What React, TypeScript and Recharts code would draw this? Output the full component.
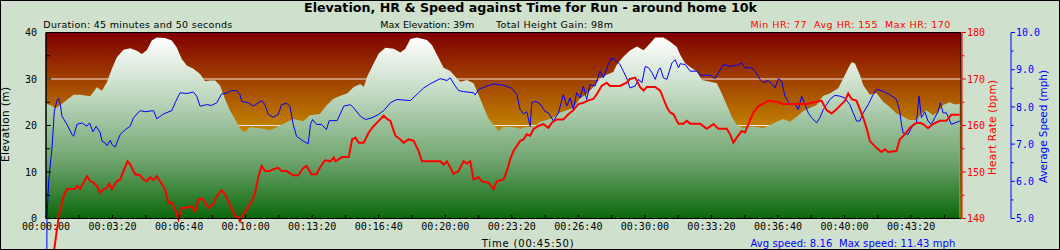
import React from 'react';
import { ComposedChart, Area, Line, XAxis, YAxis, CartesianGrid, ReferenceArea } from 'recharts';

const MONO = '"DejaVu Sans Mono", monospace';
const SANS = '"DejaVu Sans", Verdana, sans-serif';

// time (s) vs elevation (m)
const elevation: [number, number][] = [
  [0,24.6],[13,24.4],[28,23.7],[43,24.4],[83,26.6],[103,26.6],[133,26.3],[153,28.2],[168,27.5],[183,29.3],
  [198,32.2],[213,34.7],[233,36.3],[253,36.6],[273,36.1],[288,35.4],[303,36.2],[318,38.3],[333,38.9],[358,38.8],
  [378,38.3],[393,36.8],[408,34.3],[423,32.9],[443,32.2],[463,31.1],[478,29.5],[493,29.7],[508,29.7],[523,28.6],
  [538,25.7],[553,23.2],[573,20.7],[588,18.9],[598,18.6],[613,19.6],[643,19.4],[673,19.0],[693,19.6],[723,20.7],
  [743,21.4],[773,20.9],[793,22.2],[823,22.5],[843,24.3],[863,25.7],[885,26.4],[905,26.9],[925,28.3],[945,28.9],
  [955,28.3],[965,30.5],[985,33.4],[1000,35.5],[1020,36.7],[1045,36.5],[1065,35.7],[1080,36.5],[1095,38.6],[1115,38.9],
  [1145,38.4],[1160,37.3],[1175,35.2],[1195,32.4],[1215,31.7],[1235,30.1],[1245,29.4],[1265,29.8],[1285,29.1],[1300,26.6],
  [1315,24.0],[1330,21.5],[1345,20.1],[1360,18.8],[1375,19.7],[1400,19.7],[1425,19.3],[1445,19.7],[1465,19.7],[1485,20.8],
  [1505,21.2],[1525,21.7],[1545,22.8],[1565,23.3],[1585,23.8],[1605,25.8],[1625,26.8],[1645,28.3],[1665,30.1],[1685,30.9],
  [1705,31.5],[1715,33.0],[1735,34.8],[1756,36.2],[1776,37.0],[1796,36.2],[1816,37.7],[1831,38.9],[1856,38.9],[1876,38.0],
  [1896,36.9],[1906,35.2],[1921,33.4],[1936,32.6],[1956,31.6],[1971,29.8],[1996,29.4],[2016,29.1],[2031,26.9],[2046,24.4],
  [2061,21.9],[2076,20.1],[2096,19.4],[2126,19.8],[2156,19.4],[2176,20.1],[2196,20.8],[2216,21.4],[2236,20.8],[2256,21.9],
  [2276,23.1],[2316,24.4],[2336,26.4],[2356,26.9],[2381,28.0],[2396,30.1],[2411,32.3],[2421,33.6],[2431,33.4],[2446,30.9],
  [2456,28.7],[2476,26.6],[2496,27.0],[2516,25.1],[2536,24.0],[2556,22.6],[2576,21.9],[2596,21.2],[2616,21.2],[2631,22.6],
  [2646,23.3],[2666,22.2],[2681,22.9],[2696,24.4],[2716,25.0],[2731,24.5],[2746,24.7],
];

// time (s) vs heart rate (bpm)
const heartRate: [number, number][] = [
  [0,77],[24,133],[38,140.2],[51,144.5],[63,146.3],[88,146.4],[93,147.0],[103,146.4],[123,149.1],[133,148.0],
  [143,147.7],[153,147.0],[163,145.5],[173,146.3],[183,146.6],[190,147.5],[198,146.3],[213,148.0],[223,148.4],[233,150.2],
  [245,152.3],[253,151.6],[268,149.5],[283,149.3],[293,148.4],[303,148.0],[313,148.9],[323,148.2],[333,149.1],[343,148.0],
  [358,146.3],[368,143.4],[378,143.4],[388,141.9],[398,139.8],[408,142.3],[423,142.3],[438,142.6],[448,141.5],[458,144.0],
  [468,144.4],[478,143.4],[488,142.3],[503,143.1],[513,144.8],[528,146.1],[538,145.2],[553,143.0],[568,140.5],[578,140.3],
  [583,139.4],[593,140.9],[603,141.9],[618,143.7],[628,145.5],[638,148.8],[648,151.3],[658,150.2],[673,150.2],[683,150.6],
  [698,150.9],[708,150.2],[723,150.2],[743,149.3],[758,149.3],[773,150.8],[783,151.3],[798,149.5],[813,149.5],[823,150.9],
  [838,152.5],[855,152.3],[865,153.1],[870,152.3],[890,153.2],[910,153.2],[920,157.0],[930,157.4],[940,156.3],[955,156.3],
  [970,158.5],[985,159.9],[1000,161.0],[1015,162.1],[1025,161.4],[1035,161.0],[1050,157.8],[1065,157.0],[1075,156.3],[1090,157.0],
  [1105,156.7],[1120,154.5],[1130,152.3],[1185,152.3],[1195,151.6],[1205,152.3],[1225,149.6],[1240,150.2],[1255,152.3],[1265,151.8],
  [1275,152.3],[1285,148.4],[1300,148.9],[1310,148.0],[1330,147.7],[1345,146.3],[1355,148.0],[1375,148.4],[1385,150.2],[1395,152.7],
  [1405,154.5],[1415,155.6],[1425,156.7],[1435,157.0],[1445,158.1],[1455,157.8],[1465,159.2],[1480,159.9],[1495,160.3],[1510,159.5],
  [1520,160.6],[1535,161.3],[1555,161.3],[1570,162.4],[1585,163.3],[1600,164.6],[1615,164.9],[1630,165.4],[1645,165.7],[1655,166.7],
  [1670,168.5],[1685,169.2],[1695,168.5],[1725,168.5],[1745,169.2],[1755,170.0],[1771,170.3],[1786,168.2],[1796,167.5],[1806,168.3],
  [1831,168.3],[1846,167.5],[1856,165.7],[1866,163.9],[1876,162.8],[1886,162.4],[1896,161.0],[1901,160.4],[1916,160.4],[1926,161.0],
  [1936,160.4],[1966,160.4],[1986,159.3],[2006,160.3],[2021,159.3],[2046,159.3],[2056,158.1],[2066,156.3],[2076,157.4],[2091,158.8],
  [2101,158.5],[2111,160.3],[2126,162.8],[2141,164.2],[2156,164.7],[2171,165.3],[2196,165.1],[2216,164.6],[2246,164.6],[2266,164.7],
  [2286,164.6],[2301,164.9],[2331,165.3],[2346,163.3],[2361,162.6],[2376,163.5],[2391,164.6],[2401,165.3],[2411,166.9],[2421,165.7],
  [2436,165.3],[2446,163.5],[2456,161.7],[2466,159.5],[2476,156.7],[2496,155.2],[2511,154.3],[2521,154.9],[2531,154.3],[2556,154.5],
  [2566,157.0],[2581,158.1],[2596,159.5],[2611,160.4],[2626,160.6],[2636,160.3],[2651,159.4],[2666,160.3],[2686,161.0],[2706,161.0],
  [2721,162.3],[2746,162.3],
];

// time (s) vs average speed (mph)
const speed: [number, number][] = [
  [0,0],[3,5.0],[8,6.0],[18,6.9],[25,7.88],[33,8.17],[38,8.23],[43,8.06],[48,7.75],[63,7.53],
  [78,7.26],[83,7.21],[93,7.53],[108,7.57],[123,7.48],[131,7.57],[141,7.33],[151,7.48],[163,7.30],[168,7.08],
  [178,7.03],[183,6.96],[193,7.10],[198,6.99],[208,6.92],[223,7.26],[238,7.39],[253,7.48],[263,7.71],[283,7.90],
  [298,7.87],[323,7.90],[333,7.68],[353,7.81],[378,7.90],[388,8.11],[403,8.38],[423,8.36],[443,8.40],[453,8.29],
  [463,8.02],[483,8.06],[498,8.04],[513,8.11],[528,8.35],[543,8.37],[558,8.44],[573,8.44],[583,8.33],[588,8.15],
  [608,8.11],[623,8.02],[648,8.17],[658,8.06],[668,7.80],[683,7.72],[698,7.80],[708,8.06],[723,8.10],[733,8.02],
  [743,7.53],[753,7.21],[773,7.08],[788,7.01],[795,7.53],[801,7.66],[813,7.53],[828,7.53],[843,7.39],[851,7.63],
  [875,7.63],[895,8.02],[915,8.06],[925,7.97],[945,7.75],[960,7.66],[980,7.71],[1000,7.80],[1015,7.90],[1035,8.11],
  [1055,8.20],[1095,8.17],[1120,8.38],[1135,8.51],[1155,8.62],[1185,8.76],[1205,8.71],[1215,8.78],[1230,8.56],[1240,8.44],
  [1255,8.41],[1285,8.38],[1290,8.32],[1300,8.47],[1325,8.56],[1345,8.62],[1375,8.58],[1400,8.50],[1415,8.33],[1425,7.93],
  [1435,7.81],[1445,7.87],[1455,7.48],[1460,8.11],[1470,8.15],[1485,8.08],[1500,7.88],[1510,7.84],[1525,7.62],[1540,7.84],
  [1555,8.33],[1565,8.02],[1575,8.24],[1585,7.93],[1595,8.38],[1605,8.24],[1615,8.56],[1625,8.20],[1635,8.60],[1650,8.56],
  [1665,8.96],[1675,8.78],[1690,9.14],[1700,9.32],[1715,9.23],[1725,9.14],[1735,8.96],[1745,8.78],[1755,8.51],[1771,8.56],
  [1781,8.74],[1791,8.65],[1801,9.09],[1811,9.05],[1821,8.92],[1831,8.74],[1841,9.00],[1846,9.05],[1856,8.78],[1866,8.74],
  [1881,9.18],[1891,9.27],[1901,9.05],[1906,9.16],[1921,9.14],[1936,8.96],[1956,8.96],[1966,8.85],[1996,8.85],[2011,8.76],
  [2021,8.92],[2036,9.14],[2056,9.09],[2076,9.12],[2091,9.18],[2101,9.05],[2121,9.05],[2131,8.96],[2146,8.74],[2156,8.65],
  [2171,8.71],[2181,8.62],[2191,8.51],[2201,8.76],[2211,8.69],[2221,8.29],[2236,8.06],[2251,8.08],[2261,7.93],[2271,8.29],
  [2281,8.06],[2291,7.84],[2301,7.71],[2316,7.57],[2326,7.71],[2336,7.93],[2346,8.06],[2356,8.20],[2371,8.31],[2386,8.29],
  [2401,8.24],[2416,8.06],[2426,7.84],[2436,7.62],[2446,7.62],[2456,7.84],[2471,8.06],[2486,8.33],[2496,8.47],[2516,8.42],
  [2536,8.33],[2556,8.20],[2566,7.88],[2571,7.53],[2576,7.30],[2591,7.26],[2601,7.44],[2616,7.57],[2624,8.29],[2631,7.71],
  [2641,7.87],[2651,7.62],[2661,7.53],[2671,7.71],[2681,7.87],[2688,8.11],[2696,7.84],[2706,7.84],[2721,7.53],[2746,7.62],
];

const xTicks = [0,100,200,300,400,500,600,700,800,900,1000,1100,1200,1300,1400,1500,1600,1700,1800,1900,2000,2100,2200,2300,2400,2500,2600,2700];
const xLabels: Record<number, string> = {
  0: '00:00:00', 200: '00:03:20', 400: '00:06:40', 600: '00:10:00', 800: '00:13:20', 1000: '00:16:40', 1200: '00:20:00',
  1400: '00:23:20', 1600: '00:26:40', 1800: '00:30:00', 2000: '00:33:20', 2200: '00:36:40', 2400: '00:40:00', 2600: '00:43:20',
};
const elevTicks = [0,5,10,15,20,25,30,35,40];
const elevLabels: Record<number, string> = { 0: '0', 10: '10', 20: '20', 30: '30', 40: '40' };
const hrTicks = [140,145,150,155,160,165,170,175,180];
const hrLabels: Record<number, string> = { 140: '140', 150: '150', 160: '160', 170: '170', 180: '180' };
const speedTicks = [5,5.5,6,6.5,7,7.5,8,8.5,9,9.5,10];
const speedLabels: Record<number, string> = { 5: '5.0', 6: '6.0', 7: '7.0', 8: '8.0', 9: '9.0', 10: '10.0' };
const gridValues = [10, 20, 30];

const elevData = elevation.map(([t, v]) => ({ t, elev: v }));
const hrData = heartRate.map(([t, v]) => ({ t, hr: v }));
const speedData = speed.map(([t, v]) => ({ t, spd: v }));

const XTick = (p: any) => {
  const { x, y, payload } = p;
  const lab = xLabels[payload.value];
  return (
    <g>
      <line x1={x} x2={x} y1={y} y2={y - 3.5} stroke="#000" strokeWidth={1} />
      {lab && (
        <text x={x} y={y + 11.2} textAnchor="middle" fontFamily={MONO} fontSize={10} fill="#000">{lab}</text>
      )}
    </g>
  );
};

const ElevTick = (p: any) => {
  const { x, y, payload } = p;
  const lab = elevLabels[payload.value];
  return (
    <g>
      <line x1={x} x2={x + (lab ? 5 : 4)} y1={y} y2={y} stroke="#000" strokeWidth={1} />
      {lab && (
        <text x={x - 9} y={y + 3.6} textAnchor="end" fontFamily={MONO} fontSize={10} fill="#000">{lab}</text>
      )}
    </g>
  );
};

const makeRightTick = (labels: Record<number, string>, color: string, shift: number) => (p: any) => {
  const { x, y, payload } = p;
  const lab = labels[payload.value];
  return (
    <g>
      <line x1={x + shift} x2={x + shift + (lab ? 4 : 2.5)} y1={y} y2={y} stroke={color} strokeWidth={1} />
      {lab && (
        <text x={x + shift + 5} y={y + 3.6} textAnchor="start" fontFamily={MONO} fontSize={10} fill={color}>{lab}</text>
      )}
    </g>
  );
};

const HrTick = makeRightTick(hrLabels, '#ff0000', 1);
const SpeedTick = makeRightTick(speedLabels, '#0000ff', 0);

export default function App() {
  return (
    <div style={{ position: 'absolute', left: 0, top: 0, width: 1060, height: 250, background: '#cfe1cd', overflow: 'hidden' }}>
      <style>{`.recharts-line, .recharts-line * { clip-path: none !important; }`}</style>
      <div style={{ position: 'absolute', left: 0, top: 0 }}>
        <ComposedChart width={1060} height={250} margin={{ top: 32.5, right: 0, bottom: 0, left: 0 }}>
          <defs>
            <linearGradient id="bgGrad" x1="0" y1="0" x2="0" y2="1">
              <stop offset="0" stopColor="#800000" />
              <stop offset="1" stopColor="#ffff00" />
            </linearGradient>
            <linearGradient id="elevGrad" x1="0" y1="0" x2="0" y2="1">
              <stop offset="0" stopColor="#ffffff" />
              <stop offset="0.32" stopColor="#c0d8c0" />
              <stop offset="0.68" stopColor="#6fa46f" />
              <stop offset="0.96" stopColor="#177017" />
              <stop offset="1" stopColor="#0a640a" />
            </linearGradient>
          </defs>
          <CartesianGrid yAxisId="elev" vertical={false} horizontalValues={gridValues}
            stroke="#f4e6dc" strokeWidth={1} fill="url(#bgGrad)" fillOpacity={1} />
          <XAxis dataKey="t" type="number" domain={[0, 2750]} ticks={xTicks} allowDataOverflow
            height={31.5} tickSize={0} tickMargin={0} interval={0} tick={<XTick />} tickLine={false}
            axisLine={{ stroke: '#000' }} />
          <YAxis yAxisId="elev" orientation="left" width={46} type="number" domain={[0, 40]} ticks={elevTicks}
            allowDataOverflow tickSize={0} tickMargin={0} interval={0} tick={<ElevTick />} tickLine={false}
            axisLine={{ stroke: '#000' }} />
          <YAxis yAxisId="hr" orientation="right" width={50} type="number" domain={[140, 180]} ticks={hrTicks}
            allowDataOverflow tickSize={0} tickMargin={0} interval={0} tick={<HrTick />} tickLine={false}
            axisLine={{ stroke: '#ff0000', transform: 'translate(1,0)' }} />
          <YAxis yAxisId="spd" orientation="right" width={49} type="number" domain={[5, 10]} ticks={speedTicks}
            allowDataOverflow tickSize={0} tickMargin={0} interval={0} tick={<SpeedTick />} tickLine={false}
            axisLine={{ stroke: '#0000ff' }} />
          <Area yAxisId="elev" data={elevData} dataKey="elev" type="linear" stroke="none"
            fill="url(#elevGrad)" fillOpacity={1} isAnimationActive={false} dot={false} activeDot={false} />
          <Line yAxisId="spd" data={speedData} dataKey="spd" type="linear" stroke="#0000ff" strokeWidth={1}
            dot={false} activeDot={false} isAnimationActive={false} />
          <Line yAxisId="hr" data={hrData} dataKey="hr" type="linear" stroke="#ff0000" strokeWidth={2}
            dot={false} activeDot={false} isAnimationActive={false} />
          <ReferenceArea yAxisId="elev" x1={0} x2={2750} y1={0} y2={40} fill="none" stroke="#000" strokeWidth={1} />
        </ComposedChart>
      </div>
      <svg width={1060} height={250} style={{ position: 'absolute', left: 0, top: 0, pointerEvents: 'none' }}>
        <text x={530.5} y={12} textAnchor="middle" fontFamily={SANS} fontWeight="bold" fontSize={12} fill="#000"
          textLength={453} lengthAdjust="spacingAndGlyphs">Elevation, HR &amp; Speed against Time for Run - around home 10k</text>
        <text x={43.3} y={27.5} fontFamily={SANS} fontSize={9.5} fill="#000" textLength={189}>Duration: 45 minutes and 50 seconds</text>
        <text x={380.3} y={27.5} fontFamily={SANS} fontSize={9.5} fill="#000" textLength={94}>Max Elevation: 39m</text>
        <text x={496} y={27.5} fontFamily={SANS} fontSize={9.5} fill="#000" textLength={117}>Total Height Gain: 98m</text>
        <text x={750.4} y={27.5} fontFamily={SANS} fontSize={9.5} fill="#ff0000" textLength={200} style={{ whiteSpace: 'pre' }}>Min HR: 77  Avg HR: 155  Max HR: 170</text>
        <text x={481.7} y={247} fontFamily={SANS} fontSize={10} fill="#000" textLength={92}>Time (00:45:50)</text>
        <text x={750.4} y={247} fontFamily={SANS} fontSize={10} fill="#0000ff" textLength={205} style={{ whiteSpace: 'pre' }}>Avg speed: 8.16  Max speed: 11.43 mph</text>
        <text x={8.5} y={124.5} transform="rotate(-90 8.5 124.5)" textAnchor="middle" fontFamily={SANS} fontSize={10.5} fill="#000" textLength={75}>Elevation (m)</text>
        <text x={995.5} y={127.5} transform="rotate(-90 995.5 127.5)" textAnchor="middle" fontFamily={SANS} fontSize={10.5} fill="#ff0000" textLength={95}>Heart Rate (bpm)</text>
        <text x={1046.5} y={126.5} transform="rotate(-90 1046.5 126.5)" textAnchor="middle" fontFamily={SANS} fontSize={10.5} fill="#0000ff" textLength={113}>Average Speed (mph)</text>
      </svg>
      <div style={{ position: 'absolute', left: 0, top: 0, width: 1060, height: 250, boxSizing: 'border-box', border: '1px solid #000', pointerEvents: 'none' }} />
    </div>
  );
}
